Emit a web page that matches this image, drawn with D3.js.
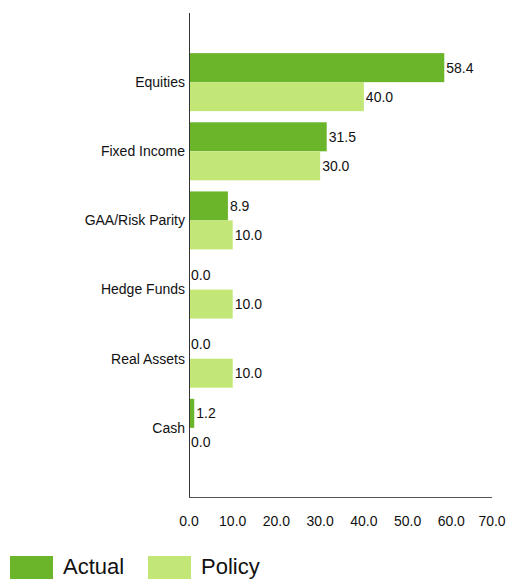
<!DOCTYPE html>
<html>
<head>
<meta charset="utf-8">
<script src="https://cdn.jsdelivr.net/npm/d3@7"></script>
<style>
  body { margin: 0; background: #fff; }
  svg text { font-family: "Liberation Sans", Arial, sans-serif; fill: #111; }
</style>
</head>
<body>
<svg id="chart" width="510" height="579"></svg>
<script>
// data
const categories = ["Equities", "Fixed Income", "GAA/Risk Parity", "Hedge Funds", "Real Assets", "Cash"];
const actual = [58.4, 31.5, 8.9, 0.0, 0.0, 1.2];
const policy = [40.0, 30.0, 10.0, 10.0, 10.0, 0.0];
const xTicks = [0, 10, 20, 30, 40, 50, 60, 70];
const seriesNames = ["Actual", "Policy"];
const colors = ["#6bb52a", "#c2e777"];

const svg = d3.select("#chart");
const plotLeft = 189, plotRight = 495, plotTop = 13, plotBottom = 497;

const x = d3.scaleLinear().domain([0, 70]).range([plotLeft, plotRight]);
const y = d3.scaleBand().domain(categories).range([plotTop, plotBottom]).paddingOuter(0.5).paddingInner(0);
const barH = 29;

// bars
const series = [actual, policy];
series.forEach((vals, s) => {
  const g = svg.append("g");
  g.selectAll("rect")
    .data(categories)
    .join("rect")
    .attr("x", x(0))
    .attr("y", (d, i) => y(d) + y.bandwidth() / 2 - barH + s * barH)
    .attr("width", (d, i) => x(vals[i]) - x(0))
    .attr("height", barH)
    .attr("fill", colors[s]);
  g.selectAll("text")
    .data(categories)
    .join("text")
    .attr("x", (d, i) => x(vals[i]) + 2)
    .attr("y", (d, i) => y(d) + y.bandwidth() / 2 - barH / 2 + s * barH)
    .attr("dy", "0.35em")
    .attr("font-size", 14)
    .text((d, i) => vals[i].toFixed(1));
});

// axes lines
svg.append("line").attr("x1", plotLeft + 0.5).attr("x2", plotLeft + 0.5).attr("y1", plotTop).attr("y2", plotBottom)
  .attr("stroke", "#333");
svg.append("line").attr("x1", plotLeft).attr("x2", 492).attr("y1", plotBottom + 0.5).attr("y2", plotBottom + 0.5)
  .attr("stroke", "#555");

// category labels
svg.append("g").selectAll("text")
  .data(categories)
  .join("text")
  .attr("x", plotLeft - 4)
  .attr("y", d => y(d) + y.bandwidth() / 2)
  .attr("dy", "0.35em")
  .attr("text-anchor", "end")
  .attr("font-size", 14)
  .text(d => d);

// x tick labels
svg.append("g").selectAll("text")
  .data(xTicks)
  .join("text")
  .attr("x", d => x(d) - (d === 70 ? 3 : 0))
  .attr("y", 521)
  .attr("dy", "0.35em")
  .attr("text-anchor", "middle")
  .attr("font-size", 14)
  .text(d => d.toFixed(1));

// legend
const legendX = [10, 148];
seriesNames.forEach((name, i) => {
  svg.append("rect").attr("x", legendX[i]).attr("y", 556).attr("width", 43).attr("height", 23)
    .attr("fill", colors[i]);
  svg.append("text").attr("x", legendX[i] + 53).attr("y", 574)
    .attr("font-size", 22).text(name);
});
</script>
</body>
</html>
